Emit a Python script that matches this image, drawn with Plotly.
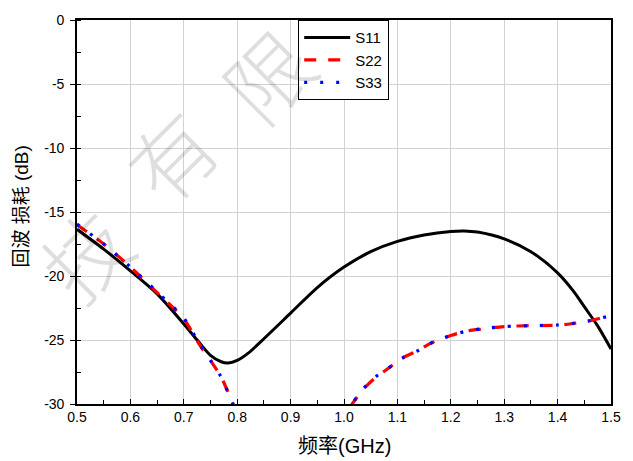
import plotly.graph_objects as go

# Frequency sweep (GHz) and return loss (dB) for the three ports
freq_s11 = [0.50, 0.55, 0.60, 0.65, 0.70, 0.725, 0.75, 0.77, 0.783, 0.80, 0.82,
            0.85, 0.90, 0.95, 1.00, 1.05, 1.10, 1.15, 1.20, 1.225, 1.25, 1.30,
            1.35, 1.40, 1.43, 1.45, 1.475, 1.50]
s11 = [-16.35, -17.9, -19.6, -21.4, -23.75, -25.0, -26.2, -26.7, -26.8, -26.6, -26.05,
       -24.9, -22.9, -20.9, -19.3, -18.1, -17.3, -16.8, -16.52, -16.48, -16.57, -17.1,
       -18.1, -19.75, -21.2, -22.4, -23.9, -25.7]

freq_s22 = [0.50, 0.55, 0.60, 0.65, 0.70, 0.73, 0.75, 0.77, 0.785, 0.80, 0.83, 0.87,
            0.91, 0.95, 0.98, 1.00, 1.017, 1.035, 1.06, 1.08, 1.11, 1.14, 1.16, 1.18,
            1.20, 1.23, 1.26, 1.30, 1.35, 1.40, 1.43, 1.46, 1.485, 1.50]
s22 = [-16.0, -17.5, -19.3, -21.3, -23.35, -25.4, -26.6, -27.9, -29.3, -30.8, -33.5, -36.0,
       -36.8, -35.5, -33.2, -31.1, -29.9, -28.9, -27.9, -27.3, -26.4, -25.8, -25.3, -24.95,
       -24.65, -24.3, -24.14, -23.95, -23.88, -23.85, -23.7, -23.5, -23.25, -23.1]

freq_s33 = [0.50, 0.55, 0.60, 0.65, 0.70, 0.73, 0.75, 0.77, 0.785, 0.80, 0.83, 0.87,
            0.91, 0.95, 0.98, 1.00, 1.017, 1.035, 1.06, 1.08, 1.11, 1.14, 1.16, 1.18,
            1.20, 1.23, 1.26, 1.30, 1.35, 1.40, 1.43, 1.46, 1.485, 1.50]
s33 = [-15.95, -17.5, -19.3, -21.25, -23.3, -25.35, -26.6, -27.9, -29.3, -30.8, -33.5, -36.0,
       -36.8, -35.5, -33.2, -31.1, -29.9, -28.85, -27.85, -27.3, -26.4, -25.8, -25.3, -24.95,
       -24.65, -24.3, -24.12, -23.95, -23.88, -23.83, -23.7, -23.5, -23.25, -23.1]

x_ticks = [0.5, 0.6, 0.7, 0.8, 0.9, 1.0, 1.1, 1.2, 1.3, 1.4, 1.5]
x_labels = ["0.5", "0.6", "0.7", "0.8", "0.9", "1.0", "1.1", "1.2", "1.3", "1.4", "1.5"]
y_ticks = [0, -5, -10, -15, -20, -25, -30]
y_labels = ["0", "-5", "-10", "-15", "-20", "-25", "-30"]

watermark = ["技", "有", "限"]

FONT = "Arial, Liberation Sans, Noto Sans CJK SC, sans-serif"

W, H = 633, 461
ML, MR, MT, MB = 77, 22, 13, 57
PW, PH = W - ML - MR, H - MT - MB

fig = go.Figure()
fig.add_trace(go.Scatter(x=freq_s11, y=s11, name="S11", mode="lines",
                         line=dict(color="black", width=3, shape="spline", smoothing=0.8)))
fig.add_trace(go.Scatter(x=freq_s22, y=s22, name="S22", mode="lines",
                         line=dict(color="#ff0000", width=3.2, dash="12px,12px",
                                   shape="spline", smoothing=0.8)))
fig.add_trace(go.Scatter(x=freq_s33, y=s33, name="S33", mode="lines",
                         line=dict(color="#0000ff", width=3.2, dash="3px,13px",
                                   shape="spline", smoothing=0.8)))

axis_common = dict(
    showline=True, linecolor="black", linewidth=1.6, mirror=True,
    showgrid=True, gridcolor="#d2d2d2", gridwidth=1,
    zeroline=False,
    tickwidth=1.2, tickcolor="black",
    tickfont=dict(family=FONT, size=14, color="black"),
)

fig.update_xaxes(range=[0.5, 1.5], tickmode="array", tickvals=x_ticks, ticktext=x_labels,
                 ticks="inside", ticklen=5, ticklabelstandoff=-1,
                 minor=dict(ticks="inside", ticklen=4, tickwidth=1.2, tickcolor="black",
                            tick0=0.5, dtick=0.05, showgrid=False),
                 **axis_common)
fig.update_yaxes(range=[-30, 0], tickmode="array", tickvals=y_ticks, ticktext=y_labels,
                 ticks="outside", ticklen=5,
                 minor=dict(ticks="inside", ticklen=4, tickwidth=1.2, tickcolor="black",
                            tick0=0, dtick=2.5, showgrid=False),
                 ticklabelstandoff=3,
                 **axis_common)

# Faint diagonal watermark characters
wm_pos = [(84, 250), (170, 150), (266, 68)]
annotations = []
for ch, (px, py) in zip(watermark, wm_pos):
    annotations.append(dict(
        text=ch, xref="paper", yref="paper",
        x=(px - ML) / PW, y=1 - (py - MT) / PH,
        xanchor="center", yanchor="middle", showarrow=False, textangle=-45,
        font=dict(family="Noto Sans CJK SC", size=84, weight=300,
                  color="rgba(0,0,0,0.13)"),
    ))

# Axis titles
annotations.append(dict(
    text="频率(GHz)", xref="paper", yref="paper",
    x=0.5, y=1 - (447 - MT) / PH, xanchor="center", yanchor="middle", showarrow=False,
    font=dict(family=FONT, size=20, color="black")))
annotations.append(dict(
    text="回波 损耗 (dB)", xref="paper", yref="paper",
    x=(22 - ML) / PW, y=1 - (203 - MT) / PH, xanchor="center", yanchor="middle",
    showarrow=False, textangle=-90, font=dict(family=FONT, size=19, color="black")))

fig.update_layout(
    width=W, height=H,
    margin=dict(l=ML, r=MR, t=MT, b=MB, pad=0),
    paper_bgcolor="white", plot_bgcolor="white",
    font=dict(family=FONT, color="black"),
    showlegend=True,
    legend=dict(x=(298 - ML) / PW, y=1.0, xanchor="left", yanchor="top",
                bgcolor="white", bordercolor="black", borderwidth=1.2,
                font=dict(family=FONT, size=15, color="black"),
                itemwidth=46, tracegroupgap=0),
    annotations=annotations,
)

fig.write_html("out.html")
